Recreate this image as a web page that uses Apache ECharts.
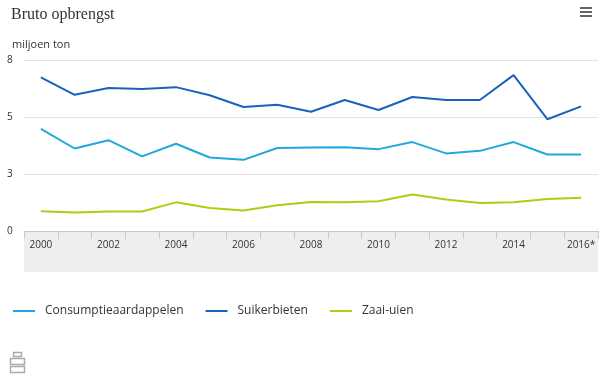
<!DOCTYPE html>
<html>
<head>
<meta charset="utf-8">
<script src="https://cdn.jsdelivr.net/npm/echarts@6/dist/echarts.min.js"></script>
<style>
html, body { margin: 0; padding: 0; background: #fff; }
#main { width: 600px; height: 376px; }
</style>
</head>
<body>
<div id="main"></div>
<script>
var years = ['2000', '2001', '2002', '2003', '2004', '2005', '2006', '2007', '2008',
    '2009', '2010', '2011', '2012', '2013', '2014', '2015', '2016*'];
var consumptie = [4.78, 3.86, 4.25, 3.49, 4.08, 3.44, 3.33, 3.88, 3.91,
    3.92, 3.83, 4.16, 3.63, 3.75, 4.16, 3.58, 3.58];
var suikerbieten = [7.19, 6.37, 6.69, 6.64, 6.73, 6.35, 5.80, 5.91, 5.58,
    6.13, 5.66, 6.27, 6.13, 6.13, 7.29, 5.23, 5.83];
var zaaiuien = [0.92, 0.86, 0.91, 0.91, 1.34, 1.08, 0.96, 1.20, 1.36,
    1.34, 1.39, 1.71, 1.47, 1.31, 1.34, 1.50, 1.55];

var chartDom = document.getElementById('main');
var myChart = echarts.init(chartDom);

var font = '"Open Sans", sans-serif';

function lineSeries(name, data, color) {
    return {
        name: name,
        type: 'line',
        data: data,
        symbol: 'none',
        lineStyle: { width: 2, color: color },
        itemStyle: { color: color }
    };
}

var option = {
    animation: false,
    title: [{
        text: 'Bruto opbrengst',
        left: 6,
        top: 2,
        textStyle: { fontFamily: '"Liberation Serif", serif', fontSize: 16, fontWeight: 'normal', color: '#333' }
    }, {
        text: 'miljoen ton',
        left: 7,
        top: 34,
        textStyle: { fontFamily: font, fontSize: 11, fontWeight: 'normal', color: '#333' }
    }],
    legend: {
        left: 8,
        top: 300,
        icon: 'rect',
        itemWidth: 22,
        itemHeight: 2,
        itemGap: 22,
        textStyle: { fontFamily: font, fontSize: 12, color: '#333', padding: [0, 0, 0, 5] },
        data: ['Consumptieaardappelen', 'Suikerbieten', 'Zaai-uien']
    },
    graphic: [{
        type: 'rect',
        left: 24,
        top: 231,
        shape: { width: 574, height: 41 },
        style: { fill: '#eeeeee' },
        z: -1
    }, {
        // menu knop
        type: 'group',
        left: 580,
        top: 7,
        children: [
            { type: 'rect', shape: { x: 0, y: 0, width: 12, height: 2 }, style: { fill: '#666' } },
            { type: 'rect', shape: { x: 0, y: 4, width: 12, height: 2 }, style: { fill: '#666' } },
            { type: 'rect', shape: { x: 0, y: 8, width: 12, height: 2 }, style: { fill: '#666' } }
        ]
    }, {
        // logo
        type: 'group',
        left: 8,
        top: 350,
        children: [
            { type: 'rect', shape: { x: 3, y: 0, width: 8, height: 4 }, style: { fill: 'none', stroke: '#aaa', lineWidth: 1.5 } },
            { type: 'rect', shape: { x: 0, y: 6, width: 14, height: 6 }, style: { fill: 'none', stroke: '#aaa', lineWidth: 1.5 } },
            { type: 'rect', shape: { x: 0, y: 14, width: 14, height: 6 }, style: { fill: 'none', stroke: '#aaa', lineWidth: 1.5 } }
        ]
    }],
    grid: {
        left: 24,
        right: 2,
        top: 60,
        bottom: 145
    },
    xAxis: {
        type: 'category',
        data: years,
        boundaryGap: true,
        axisLine: { lineStyle: { color: '#c8c8c8' } },
        axisTick: { show: true, interval: 0, length: 8, lineStyle: { color: '#c8c8c8' } },
        axisLabel: { interval: 1, fontFamily: font, fontSize: 10, color: '#333', margin: 9 }
    },
    yAxis: {
        type: 'value',
        min: 0,
        max: 8,
        interval: 8 / 3,
        axisLine: { show: false },
        axisTick: { show: false },
        splitLine: { lineStyle: { color: '#e3e3e3' } },
        axisLabel: {
            fontFamily: font,
            fontSize: 10,
            color: '#333',
            align: 'left',
            margin: 17,
            formatter: function (v) { return Math.round(v); }
        }
    },
    series: [
        lineSeries('Consumptieaardappelen', consumptie, '#22a8dc'),
        lineSeries('Suikerbieten', suikerbieten, '#1a62bb'),
        lineSeries('Zaai-uien', zaaiuien, '#b2cc12')
    ]
};

myChart.setOption(option);
</script>
</body>
</html>
